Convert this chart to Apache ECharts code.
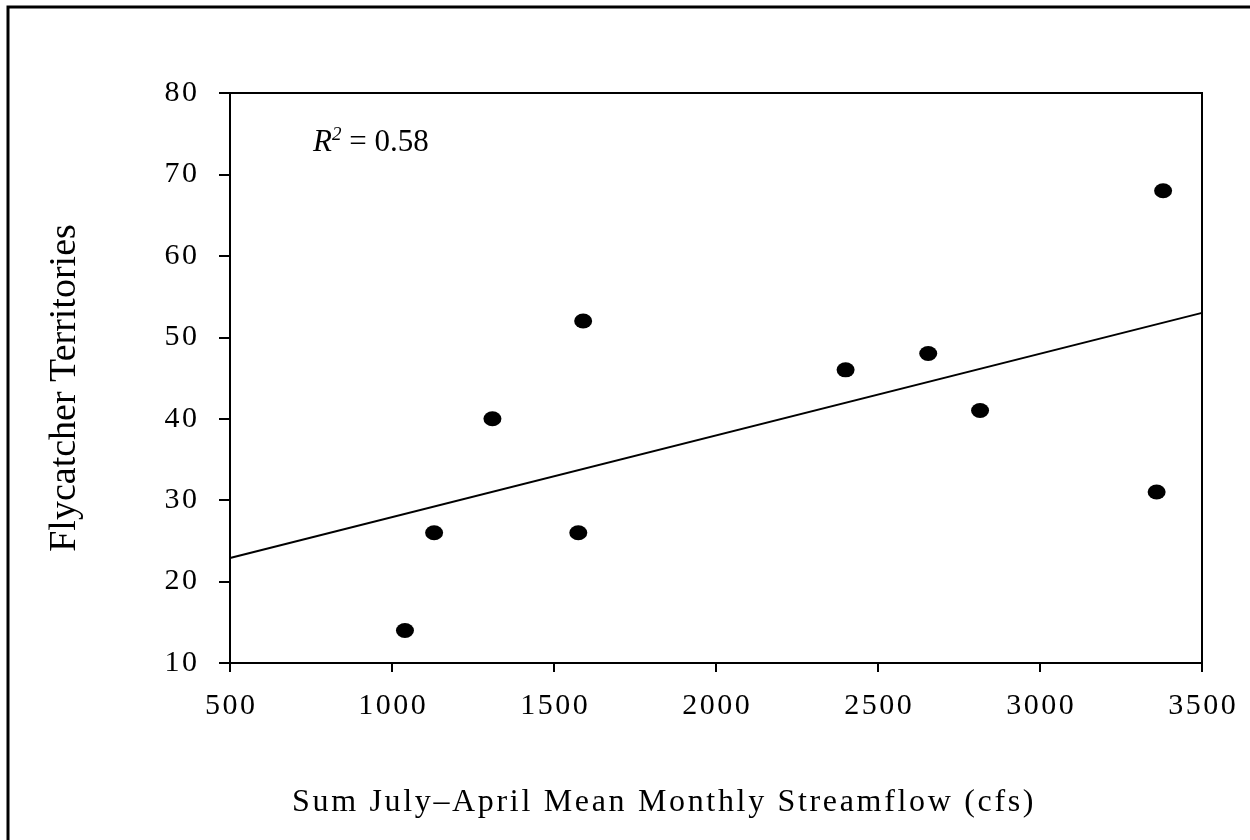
<!DOCTYPE html>
<html>
<head>
<meta charset="utf-8">
<script src="https://cdn.jsdelivr.net/npm/echarts@6/dist/echarts.min.js"></script>
<style>
  html, body { margin: 0; padding: 0; background: #fff; }
  #chart { width: 1250px; height: 840px; }
</style>
</head>
<body>
<div id="chart"></div>
<script>
// Summed July–April mean monthly streamflow (cfs) per year
const streamflow = [1040, 1130, 1310, 1575, 1590, 2400, 2655, 2815, 3360, 3380];
// Flycatcher territories counted in the same years
const territories = [14, 26, 40, 26, 52, 46, 48, 41, 31, 68];
// Least-squares line evaluated at the ends of the x range
const fitX = [500, 3500];
const fitY = [22.9, 53.0];
const rSquared = '0.58';

const xTicks = [500, 1000, 1500, 2000, 2500, 3000, 3500];
const yTicks = [10, 20, 30, 40, 50, 60, 70, 80];

const FONT = '"Liberation Serif", "Times New Roman", serif';
// Spread characters apart with hair spaces (canvas has no letter-spacing here)
const spaced = (s, sep) => String(s).split('').join(sep || '\u200A');

const points = streamflow.map((x, i) => [x, territories[i]]);
const fitLine = fitX.map((x, i) => [x, fitY[i]]);

const chart = echarts.init(document.getElementById('chart'), null, { renderer: 'canvas' });

chart.setOption({
  backgroundColor: '#fff',
  animation: false,
  grid: {
    left: 230, right: 48, top: 93, bottom: 177,
    show: true, borderColor: '#000', borderWidth: 2, backgroundColor: 'transparent'
  },
  xAxis: {
    type: 'value',
    min: xTicks[0], max: xTicks[xTicks.length - 1], interval: 500,
    axisLine: { show: true, lineStyle: { color: '#000', width: 2 } },
    axisTick: { show: true, length: 9, lineStyle: { color: '#000', width: 2 } },
    splitLine: { show: false },
    axisLabel: {
      color: '#000', fontFamily: FONT, fontSize: 30, margin: 28,
      formatter: v => spaced(v)
    }
  },
  yAxis: {
    type: 'value',
    min: yTicks[0], max: yTicks[yTicks.length - 1], interval: 10,
    axisLine: { show: true, lineStyle: { color: '#000', width: 2 } },
    axisTick: { show: true, length: 11, lineStyle: { color: '#000', width: 2 } },
    splitLine: { show: false },
    axisLabel: {
      color: '#000', fontFamily: FONT, fontSize: 30, margin: 33,
      formatter: v => spaced(v)
    }
  },
  graphic: [
    {
      type: 'rect', silent: true, z: 100,
      shape: { x: 8, y: 7, width: 1270, height: 900 },
      style: { fill: 'none', stroke: '#000', lineWidth: 3 }
    },
    {
      type: 'text', silent: true,
      x: 292, y: 803,
      style: {
        text: spaced('Sum July\u2013April Mean Monthly Streamflow (cfs)'),
        fontFamily: FONT, fontSize: 32, fill: '#000',
        verticalAlign: 'middle', align: 'left'
      }
    },
    {
      type: 'text', silent: true,
      x: 65, y: 388, rotation: Math.PI / 2,
      style: {
        text: 'Flycatcher Territories',
        fontFamily: FONT, fontSize: 38, fill: '#000',
        align: 'center', verticalAlign: 'middle'
      }
    },
    {
      type: 'text', silent: true,
      x: 313, y: 143,
      style: {
        text: '{r|R}{s|2}{t| = ' + rSquared + '}',
        verticalAlign: 'middle',
        rich: {
          r: { fontFamily: FONT, fontSize: 31, fontStyle: 'italic', fill: '#000' },
          s: { fontFamily: FONT, fontSize: 19, fontStyle: 'italic', fill: '#000', padding: [0, 0, 16, 0] },
          t: { fontFamily: FONT, fontSize: 31, fill: '#000' }
        }
      }
    }
  ],
  series: [
    {
      type: 'line',
      data: fitLine,
      showSymbol: false,
      symbol: 'none',
      lineStyle: { color: '#000', width: 2 },
      z: 2,
      silent: true
    },
    {
      type: 'scatter',
      data: points,
      symbol: 'circle',
      symbolSize: [18, 15],
      itemStyle: { color: '#000', opacity: 1 },
      z: 3
    }
  ]
});
</script>
</body>
</html>
